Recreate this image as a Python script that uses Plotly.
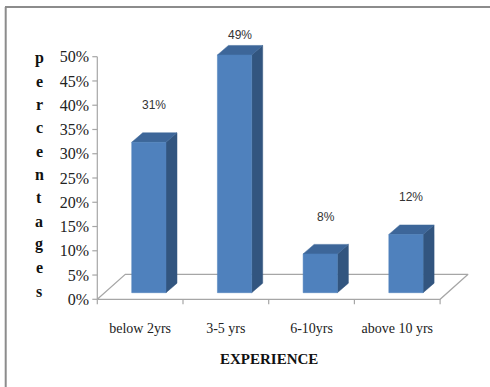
import plotly.graph_objects as go

# ---- data ----
categories = ["below 2yrs", "3-5 yrs", "6-10yrs", "above 10 yrs"]
values = [31, 49, 8, 12]
y_ticks = [0, 5, 10, 15, 20, 25, 30, 35, 40, 45, 50]
y_tick_labels = [f"{v}%" for v in y_ticks]
x_title = "EXPERIENCE"
y_title = "percentages"

# ---- geometry (pixel scale of the reference) ----
W, H = 490, 387
ML, MR, MT, MB = 90, 10, 30, 78
PW, PH = W - ML - MR, H - MT - MB
PXX = 85.7          # px per category
PXY = 4.852         # px per percent
AXIS_PX = 97.3      # pixel x of y-axis line
ZERO_PX = 299.3     # pixel y of 0%
x0 = -0.5 - (AXIS_PX - ML) / PXX
x1 = x0 + PW / PXX
y0 = -((H - MB) - ZERO_PX) / PXY
y1 = (ZERO_PX - MT) / PXY

BAR_W = 0.40
OX, OY = 8.7 / PXX, 6.6 / PXY       # bar offset into floor
DX, DY = 11 / PXX, 9.5 / PXY        # bar depth
FDX, FDY = 28 / PXX, 25 / PXY       # floor depth

FRONT = "#4F81BD"
TOP = "#3D6699"
SIDE = "#32557F"
GRID = "#A6A6A6"

fig = go.Figure()

# floor
n = len(categories)
fx = [-0.5, n - 0.5, n - 0.5 + FDX, -0.5 + FDX, -0.5]
fy = [0, 0, FDY, FDY, 0]
fig.add_trace(go.Scatter(x=fx, y=fy, mode="lines", line=dict(color=GRID, width=1.2),
                         hoverinfo="skip", showlegend=False))

def poly(xs, ys, color):
    fig.add_trace(go.Scatter(x=xs + [xs[0]], y=ys + [ys[0]], mode="lines", fill="toself",
                             fillcolor=color, line=dict(color=color, width=0.5),
                             hoverinfo="skip", showlegend=False))

for i, v in enumerate(values):
    xl = i - BAR_W / 2 + OX
    xr = i + BAR_W / 2 + OX
    yb = OY
    yt = OY + v
    poly([xr, xr + DX, xr + DX, xr], [yb, yb + DY, yt + DY, yt], SIDE)
    poly([xl, xr, xr + DX, xl + DX], [yt, yt, yt + DY, yt + DY], TOP)
    poly([xl, xr, xr, xl], [yb, yb, yt, yt], FRONT)

shapes = []
shapes.append(dict(type="line", xref="x", yref="y", x0=-0.5, x1=-0.5, y0=0, y1=max(y_ticks),
                   line=dict(color=GRID, width=1.2)))
for t in y_ticks:
    shapes.append(dict(type="line", xref="x", yref="y", x0=-0.5 - 5 / PXX, x1=-0.5, y0=t, y1=t,
                       line=dict(color=GRID, width=1.2)))
for k in range(n + 1):
    shapes.append(dict(type="line", xref="x", yref="y", x0=k - 0.5, x1=k - 0.5, y0=0, y1=-5 / PXY,
                       line=dict(color=GRID, width=1.2)))

def px2paper_x(px):
    return (px - ML) / PW

def px2paper_y(py):
    return ((H - MB) - py) / PH

shapes.append(dict(type="line", xref="paper", yref="paper", x0=px2paper_x(5), x1=px2paper_x(W),
                   y0=px2paper_y(7), y1=px2paper_y(7), line=dict(color="#8C8C8C", width=2)))
shapes.append(dict(type="line", xref="paper", yref="paper", x0=px2paper_x(5.7), x1=px2paper_x(5.7),
                   y0=px2paper_y(7), y1=px2paper_y(H), line=dict(color="#8C8C8C", width=2)))

annotations = []
for i, v in enumerate(values):
    annotations.append(dict(x=i + OX + DX / 2, y=min(v + 9, 54.5), xref="x", yref="y",
                            xanchor="center", yanchor="middle",
                            text=f"{v}%", showarrow=False,
                            font=dict(family="Liberation Sans, Arial", size=12, color="#333333")))
annotations.append(dict(x=(n - 1) / 2, y=px2paper_y(359), xref="x", yref="paper", text=f"<b>{x_title}</b>",
                        xanchor="center", yanchor="middle", showarrow=False,
                        font=dict(family="Liberation Serif, Times New Roman", size=15, color="#111111")))
for j, ch in enumerate(y_title):
    annotations.append(dict(x=px2paper_x(39), y=px2paper_y(58 + j * 23.3), xref="paper", yref="paper",
                            xanchor="center", yanchor="middle",
                            text=f"<b>{ch}</b>", showarrow=False,
                            font=dict(family="Liberation Serif, Times New Roman", size=16, color="#111111")))

fig.update_layout(
    width=W, height=H,
    margin=dict(l=ML, r=MR, t=MT, b=MB, pad=0),
    paper_bgcolor="white", plot_bgcolor="white",
    showlegend=False,
    shapes=shapes, annotations=annotations,
    xaxis=dict(range=[x0, x1], tickmode="array", tickvals=list(range(n)), ticktext=categories,
               showgrid=False, zeroline=False, showline=False, ticks="outside", ticklen=6,
               tickcolor="rgba(0,0,0,0)",
               tickfont=dict(family="Liberation Serif, Times New Roman", size=14, color="#222222")),
    yaxis=dict(range=[y0, y1], tickmode="array", tickvals=y_ticks, ticktext=y_tick_labels,
               showgrid=False, zeroline=False, showline=False, ticks="",
               tickfont=dict(family="Liberation Serif, Times New Roman", size=16, color="#222222")),
)

fig.write_html("out.html")
